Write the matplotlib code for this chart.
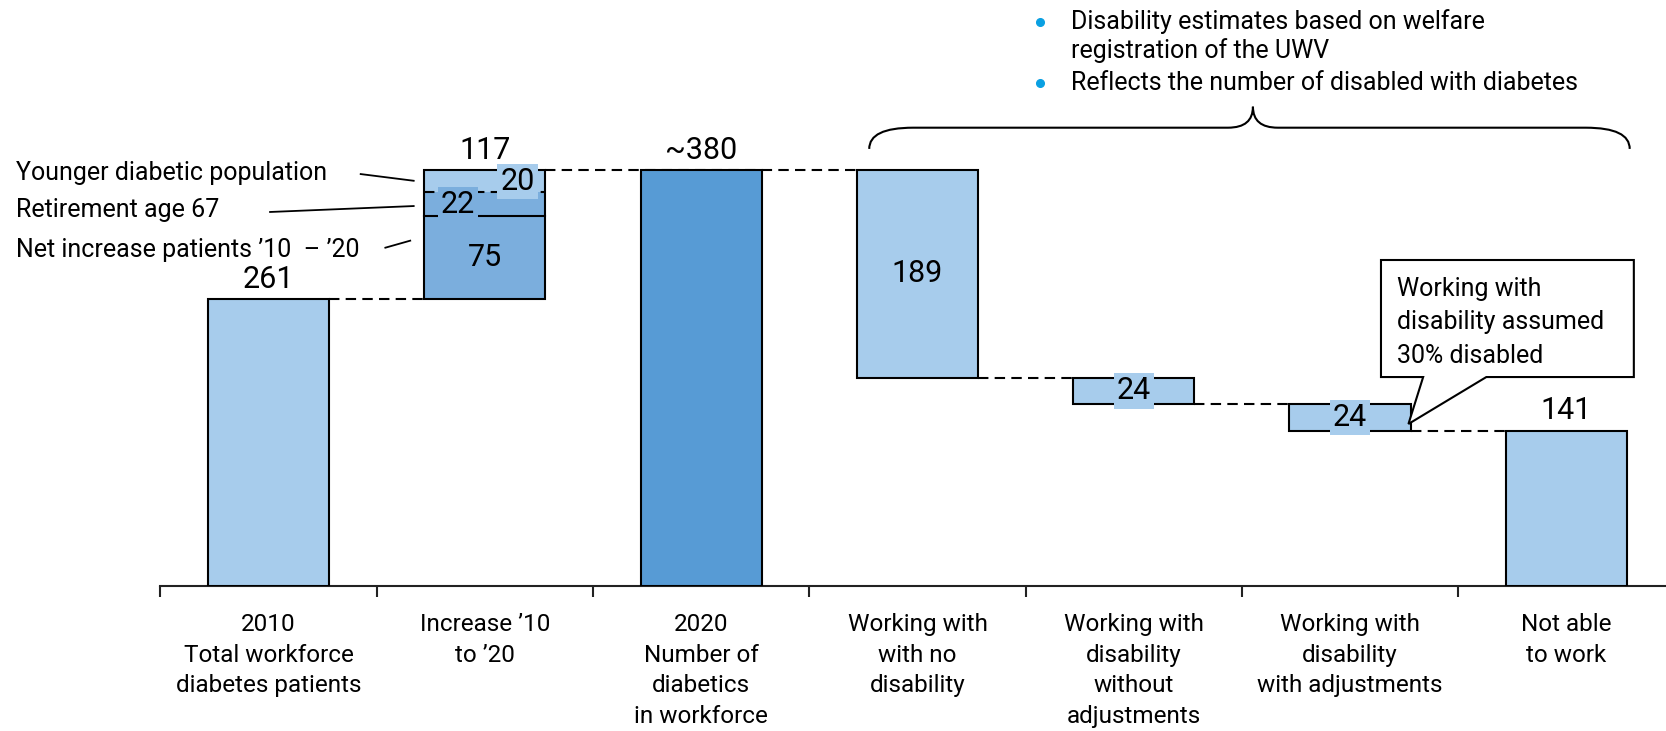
import numpy as np
import matplotlib

matplotlib.use("Agg")
import matplotlib.pyplot as plt
from matplotlib.patches import Polygon, PathPatch
from matplotlib.path import Path

plt.rcParams["font.family"] = ["Roboto", "DejaVu Sans"]

# --- data -----------------------------------------------------------------
categories = [
    "2010\nTotal workforce\ndiabetes patients",
    "Increase \u201910\nto \u201920",
    "2020\nNumber of\ndiabetics\nin workforce",
    "Working with\nwith no\ndisability",
    "Working with\ndisability\nwithout\nadjustments",
    "Working with\ndisability\nwith adjustments",
    "Not able\nto work",
]
start_2010 = 261
increase_parts = [75, 22, 20]
increase_names = [
    "Net increase patients \u201910  \u2013 \u201920",
    "Retirement age 67",
    "Younger diabetic population",
]
total_label = "~380"
drops = [189, 24, 24]
not_able = 141
bullets = [
    ["Disability estimates based on welfare", "registration of the UWV"],
    ["Reflects the number of disabled with diabetes"],
]
callout = "Working with\ndisability assumed\n30% disabled"

LIGHT = "#A7CCEC"
MID = "#7BAEDD"
DARK = "#579BD5"
BULLET = "#0AA0E2"
W = 0.56
LW = 1.5
DASH = (0, (5, 3))
FS = 18

fig = plt.figure(figsize=(16.66, 7.31), dpi=100)
# the category grid runs slightly past the right edge of the figure
ax = fig.add_axes([160.4 / 1666, 145.5 / 731, 7 * 216.3 / 1666, 585.5 / 731])
ax.set_xlim(-0.5, 6.5)
ax.set_ylim(0, 532.8)

total = start_2010 + sum(increase_parts)

# 2010 bar
ax.bar(0, start_2010, W, color=LIGHT, edgecolor="black", linewidth=LW, zorder=3)

# increase bar, stacked segments
seg_colors = [MID, MID, LIGHT]
bottom = start_2010
seg_bottoms = []
for v, c in zip(increase_parts, seg_colors):
    ax.bar(1, v, W, bottom=bottom, color=c, linewidth=0, zorder=3)
    seg_bottoms.append(bottom)
    bottom += v
ax.bar(1, total - start_2010, W, bottom=start_2010, fill=False,
       edgecolor="black", linewidth=LW, zorder=4)
ax.plot([1 - W / 2, 1 + W / 2], [seg_bottoms[1]] * 2, color="black", lw=LW, zorder=4)
ax.plot([1 - W / 2, 1 + W / 2], [seg_bottoms[2]] * 2, color="black", lw=LW,
        ls=DASH, zorder=4)

# 2020 total
ax.bar(2, total, W, color=DARK, edgecolor="black", linewidth=LW, zorder=3)

# drops
level = total
drop_bottoms = []
for i, d in enumerate(drops):
    ax.bar(3 + i, d, W, bottom=level - d, color=LIGHT, edgecolor="black",
           linewidth=LW, zorder=3)
    drop_bottoms.append(level - d)
    level -= d

ax.bar(6, not_able, W, color=LIGHT, edgecolor="black", linewidth=LW, zorder=3)

# connectors
conn = [(0, 1, start_2010), (1, 3, total)]
conn += [(3 + i, 4 + i, drop_bottoms[i]) for i in range(3)]
for a, b, y in conn:
    ax.plot([a + W / 2, b - W / 2], [y, y], color="black", lw=LW, ls=DASH, zorder=2)

# value labels
NUM = 22
for x, top, txt in [(0, start_2010, str(start_2010)),
                    (1, total, str(sum(increase_parts))),
                    (2, total, total_label),
                    (6, not_able, str(not_able))]:
    ax.annotate(txt, (x, top), xytext=(0, 8), textcoords="offset points",
                ha="center", va="baseline", fontsize=NUM, zorder=6)

ax.text(1, seg_bottoms[0] + increase_parts[0] / 2, str(increase_parts[0]),
        ha="center", va="center", fontsize=NUM, zorder=6)
ax.text(0.876, seg_bottoms[1] + increase_parts[1] / 2, str(increase_parts[1]),
        ha="center", va="center", fontsize=NUM, zorder=6,
        bbox=dict(boxstyle="square,pad=0.1", fc=MID, ec="none"))
ax.text(1.152, seg_bottoms[2] + increase_parts[2] / 2, str(increase_parts[2]),
        ha="center", va="center", fontsize=NUM, zorder=6,
        bbox=dict(boxstyle="square,pad=0.1", fc=LIGHT, ec="none"))
ax.text(3, drop_bottoms[0] + drops[0] / 2, str(drops[0]),
        ha="center", va="center", fontsize=NUM, zorder=6)
for i in (1, 2):
    ax.text(3 + i, drop_bottoms[i] + drops[i] / 2, str(drops[i]),
            ha="center", va="center", fontsize=NUM, zorder=6,
            bbox=dict(boxstyle="square,pad=0.1", fc=LIGHT, ec="none"))

# segment names with leader lines (left of the axes)
name_y = [305.0, 341.5, 375.0]
leaders = [((0.540, 307.4), (0.655, 313.8)),
           ((0.007, 339.9), (0.671, 345.3)),
           ((0.426, 374.4), (0.671, 368.3))]
for name, y, (p0, p1) in zip(increase_names, name_y, leaders):
    ax.text(-1.167, y, name, ha="left", va="center", fontsize=FS)
    ax.plot([p0[0], p1[0]], [p0[1], p1[1]], color="black", lw=1.3,
            clip_on=False, zorder=5)

# brace over the last four bars
L, R, C = 2.777, 6.293, 4.551
yb, yl, yc = 397.3, 416.6, 435.7
de, dc = 0.203, 0.115
verts = [(L, yb), (L, yl), (L + de, yl), (C - dc, yl), (C, yl), (C, yc),
         (C, yl), (C + dc, yl), (R - de, yl), (R, yl), (R, yb)]
codes = [Path.MOVETO, Path.CURVE3, Path.CURVE3, Path.LINETO, Path.CURVE3, Path.CURVE3,
         Path.CURVE3, Path.CURVE3, Path.LINETO, Path.CURVE3, Path.CURVE3]
ax.add_patch(PathPatch(Path(verts, codes), fill=False, lw=1.5, clip_on=False))

# bullet notes
y = 513.0
for item in bullets:
    ax.plot(3.567, y, "o", color=BULLET, ms=5.5, clip_on=False)
    for line in item:
        ax.text(3.71, y, line, ha="left", va="center", fontsize=FS)
        y -= 26.5
    y -= 3.0

# callout box
box = [(5.143, 296.2), (6.312, 296.2), (6.312, 189.7), (5.630, 189.7),
       (5.270, 147.0), (5.338, 189.7), (5.143, 189.7)]
ax.add_patch(Polygon(box, closed=True, fc="white", ec="black", lw=1.5,
                     zorder=7, clip_on=False))
ax.text(5.217, 239.5, callout, ha="left", va="center", fontsize=FS,
        linespacing=1.5, zorder=8)

# axis styling
for s in ("left", "top", "right"):
    ax.spines[s].set_visible(False)
ax.spines["bottom"].set_linewidth(LW)
ax.spines["bottom"].set_color("#222222")
ax.set_yticks([])
ax.set_xticks(np.arange(-0.5, 7, 1))
ax.set_xticklabels([])
ax.tick_params(axis="x", which="major", length=8, width=LW, color="#222222")
ax.set_xticks(np.arange(len(categories)), minor=True)
ax.set_xticklabels(categories, minor=True, fontsize=FS - 0.5, linespacing=1.42)
ax.tick_params(axis="x", which="minor", length=0, pad=20)

fig.savefig("out.png", dpi=100)
